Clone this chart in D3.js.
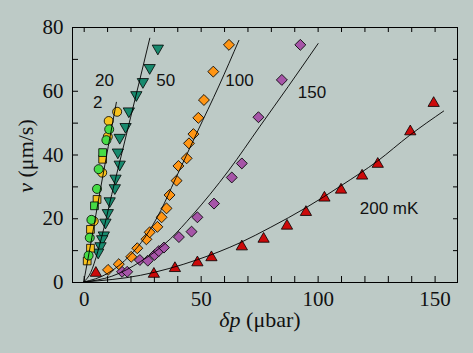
<!DOCTYPE html>
<html>
<head>
<meta charset="utf-8">
<script src="https://cdn.jsdelivr.net/npm/d3@7"></script>
<style>
  html, body { margin: 0; padding: 0; background: #bdcac6; }
  svg { display: block; }
</style>
</head>
<body>
<div id="chart"></div>
<script>
// measured points, [dp (ubar), v (um/s)]
const t2Circles = [[14.3, 53.4], [10.7, 50.5], [10.3, 45.6], [7.9, 34.3], [4.3, 19.1]];
const t2Squares = [[8.1, 38.5], [5.7, 25.9], [2.9, 16.5], [2.9, 10.6], [1.5, 6.6]];
const t20Circles = [[10.9, 47.9], [9.7, 44.5], [6.4, 35.4], [5.7, 29.2], [3.3, 19.5], [2.6, 13.9], [2.1, 8.3]];
const t20Squares = [[8.1, 40.6], [4.6, 23.9]];
const t50 = [[31.7, 73.3], [28.2, 67.2], [25.3, 62.8], [22.5, 58.7], [19.3, 53.6], [17.9, 48.7], [15.4, 45.3],
  [14.6, 40.7], [15.4, 36.9], [13.6, 32.5], [13.3, 29.5], [11.1, 25.4], [10.3, 21.7], [9.3, 18.7],
  [8.6, 14.7], [7.9, 13.5], [7.2, 11.3], [6.2, 9.3]];
const t100 = [[10.4, 3.8], [15.0, 5.6], [20.3, 7.9], [22.9, 10.6], [26.8, 13.4], [28.2, 15.6], [31.5, 17.3],
  [33.3, 20.3], [35.4, 23.1], [36.7, 27.3], [39.7, 31.8], [40.5, 36.4], [44.0, 38.8], [45.0, 43.5],
  [46.9, 46.4], [49.0, 51.5], [51.4, 57.1], [55.4, 66.0], [62.1, 74.4]];
const t150 = [[16.4, 3.2], [18.6, 3.2], [24.0, 6.9], [27.4, 6.7], [30.3, 8.5], [32.1, 9.7], [34.3, 10.8],
  [40.7, 14.1], [46.1, 15.8], [48.6, 20.3], [55.7, 24.6], [63.3, 32.8], [67.6, 37.2], [74.7, 51.7],
  [84.7, 63.4], [92.6, 74.4]];
const t200 = [[5.2, 2.8], [30.0, 2.5], [39.0, 4.3], [48.6, 6.1], [54.6, 7.7], [67.6, 11.1], [76.9, 13.5],
  [86.9, 17.6], [95.0, 21.9], [102.9, 26.4], [110.0, 28.9], [119.0, 33.3], [125.7, 37.0], [139.6, 47.2],
  [149.6, 56.1]];

// fitted curves
const fit2 = [[0, 0], [3.5, 14], [7, 28.5], [10.5, 42.5], [14, 56.5]];
const fit50 = [[0, 0], [3, 3], [6, 9.5], [9, 18], [12, 27.5], [16, 39.5], [20, 51.5], [24, 63.5], [28.3, 76.6]];
const fit100 = [[0, 0], [10, 2.6], [20, 8.5], [26, 13.8], [33, 22.5], [39, 32], [48.5, 47], [57.8, 61.5], [66.4, 75.9]];
const fit150 = [[0, 0], [12, 1.8], [24.3, 6.4], [37, 13.5], [46.5, 21], [54, 27.5], [62.1, 35.1], [75.2, 48.7],
  [87.4, 61.3], [100.3, 74.9]];
const fit200 = [[0, 0], [24.3, 2.1], [48.6, 7.0], [67.1, 12.4], [80, 17.2], [95, 23.3], [110, 30.2], [125.7, 38.0],
  [139.3, 46.0], [154, 53.7]];

const curveLabels = ["20", "2", "50", "100", "150", "200 mK"];
const curveLabelAt = [[4.8, 63.5], [4, 56.5], [31, 63.5], [60.5, 63.5], [91.5, 59.5], [118, 23.3]];

const xTicks = d3.range(0, 151, 10);
const yTicks = d3.range(0, 81, 10);

const W = 473, H = 353;
const mLeft = 72, mRight = 458, mTop = 27, mBottom = 282;

const svg = d3.select("#chart").append("svg")
  .attr("width", W)
  .attr("height", H);

const x = d3.scaleLinear().domain([-5, 160]).range([mLeft, mRight]);
const y = d3.scaleLinear().domain([0, 80]).range([mBottom, mTop]);

// axes, ticks pointing inward on all four sides
const serif = "'Liberation Serif', 'Times New Roman', serif";

svg.append("g")
  .attr("transform", `translate(0,${mBottom})`)
  .call(d3.axisBottom(x).tickValues(xTicks).tickSizeInner(-6).tickSizeOuter(0).tickPadding(9)
    .tickFormat(d => d % 50 === 0 ? d : ""));
svg.append("g")
  .attr("transform", `translate(0,${mTop})`)
  .call(d3.axisTop(x).tickValues(xTicks).tickSizeInner(-5).tickSizeOuter(0).tickFormat(""));
svg.append("g")
  .attr("transform", `translate(${mLeft},0)`)
  .call(d3.axisLeft(y).tickValues(yTicks).tickSizeInner(-6).tickSizeOuter(0).tickPadding(8.5)
    .tickFormat(d => d % 20 === 0 ? d : ""));
svg.append("g")
  .attr("transform", `translate(${mRight},0)`)
  .call(d3.axisRight(y).tickValues(yTicks).tickSizeInner(-5).tickSizeOuter(0).tickFormat(""));

svg.selectAll(".domain").remove();
svg.selectAll(".tick line").attr("stroke", "#000").attr("stroke-width", 1);
svg.selectAll(".tick text")
  .attr("fill", "#111")
  .attr("font-family", serif)
  .attr("font-size", 21);

svg.append("rect")
  .attr("x", mLeft + 0.5)
  .attr("y", mTop + 0.5)
  .attr("width", mRight - mLeft - 1)
  .attr("height", mBottom - mTop)
  .attr("fill", "none")
  .attr("stroke", "#000")
  .attr("stroke-width", 1);

// axis titles
const xTitle = svg.append("text")
  .attr("x", 260)
  .attr("y", 327)
  .attr("text-anchor", "middle")
  .attr("font-family", serif)
  .attr("font-size", 22)
  .attr("fill", "#111");
xTitle.append("tspan").attr("font-style", "italic").text("δp");
xTitle.append("tspan").text(" (μbar)");

const yTitle = svg.append("text")
  .attr("transform", "translate(33,156) rotate(-90)")
  .attr("text-anchor", "middle")
  .attr("font-family", serif)
  .attr("font-size", 22)
  .attr("fill", "#111");
yTitle.append("tspan").attr("font-style", "italic").text("v");
yTitle.append("tspan").text(" (μm/s)");

// markers
const plot = svg.append("g");

function drawSeries(data, symbol, size, color, rotate) {
  plot.append("g")
    .selectAll("path")
    .data(data)
    .enter()
    .append("path")
    .attr("d", d3.symbol().type(symbol).size(size))
    .attr("transform", d => `translate(${x(d[0])},${y(d[1])})` + (rotate ? ` rotate(${rotate})` : ""))
    .attr("fill", color)
    .attr("stroke", "#000")
    .attr("stroke-width", 0.8)
    .attr("stroke-linejoin", "round");
}

drawSeries(t200, d3.symbolTriangle, 55, "#cc0a0a", 0);
drawSeries(t150, d3.symbolSquare, 60, "#a655a8", 45);
drawSeries(t100, d3.symbolSquare, 60, "#ff9514", 45);
drawSeries(t50, d3.symbolTriangle, 55, "#178a6e", 180);
drawSeries(t2Squares, d3.symbolSquare, 60, "#f7c21d", 0);
drawSeries(t20Squares, d3.symbolSquare, 60, "#46dc46", 0);
drawSeries(t2Circles, d3.symbolCircle, 64, "#f7c21d", 0);
drawSeries(t20Circles, d3.symbolCircle, 64, "#46dc46", 0);

// fit curves
const line = d3.line()
  .x(d => x(d[0]))
  .y(d => y(d[1]))
  .curve(d3.curveMonotoneX);

[fit2, fit50, fit100, fit150, fit200].forEach(f => {
  plot.append("path")
    .datum(f)
    .attr("d", line)
    .attr("fill", "none")
    .attr("stroke", "#000")
    .attr("stroke-width", 0.9);
});

// curve labels
svg.append("g")
  .selectAll("text")
  .data(curveLabels)
  .enter()
  .append("text")
  .attr("x", (d, i) => x(curveLabelAt[i][0]))
  .attr("y", (d, i) => y(curveLabelAt[i][1]))
  .attr("dy", "0.35em")
  .attr("font-family", "'Liberation Sans', Arial, sans-serif")
  .attr("font-size", 17)
  .attr("fill", "#111")
  .text(d => d);
</script>
</body>
</html>
